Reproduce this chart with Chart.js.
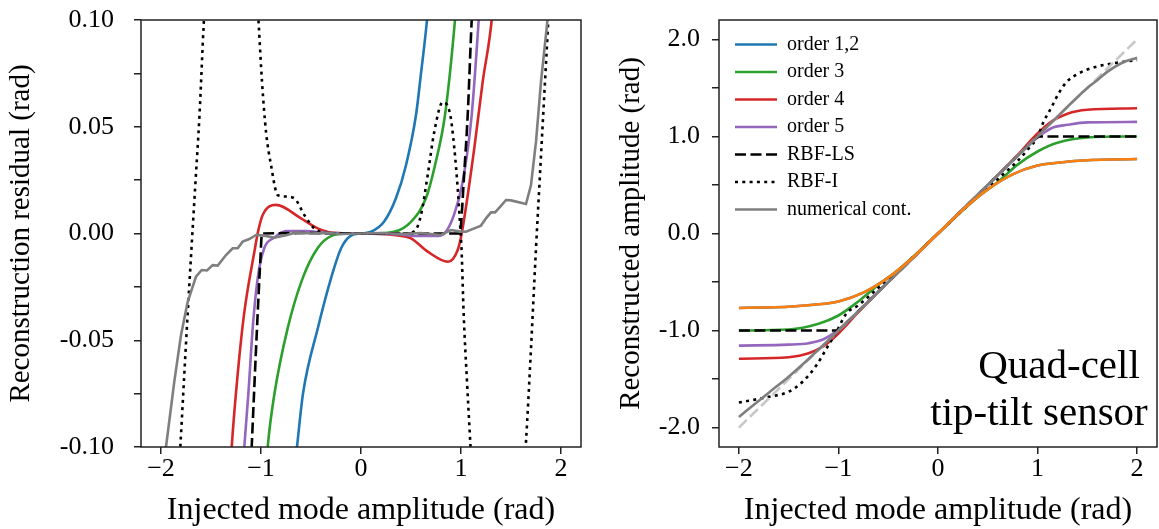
<!DOCTYPE html>
<html>
<head>
<meta charset="utf-8">
<script src="https://cdn.jsdelivr.net/npm/chart.js"></script>
<style>
  html, body { margin: 0; padding: 0; background: #fff; }
  #wrap { position: relative; width: 1159px; height: 529px; }
  #left { position: absolute; left: 0; top: 0; }
  #right { position: absolute; left: 600px; top: 0; }
</style>
</head>
<body>
<div id="wrap">
  <canvas id="left" width="600" height="529"></canvas>
  <canvas id="right" width="559" height="529"></canvas>
</div>
<script>
// ---- left panel: reconstruction residual ----
const o12ResX = [-0.72, -0.64, -0.58, -0.43, -0.3, -0.2, -0.1, 0, 0.1, 0.23, 0.35, 0.45, 0.55, 0.6, 0.66, 0.72];
const o12ResY = [-0.135, -0.1, -0.075, -0.044, -0.021, -0.007, -0.001, 0, 0.0008, 0.0055, 0.0166, 0.032, 0.0555, 0.075, 0.1, 0.135];

const o3ResX = [-0.97, -0.933, -0.867, -0.733, -0.583, -0.433, -0.3, -0.15, 0, 0.15, 0.33, 0.5, 0.65, 0.74, 0.84, 0.94, 0.98];
const o3ResY = [-0.125, -0.1, -0.0755, -0.0443, -0.0209, -0.0068, -0.0012, -0.0001, 0, 0.0001, 0.0008, 0.0055, 0.0166, 0.032, 0.0555, 0.1, 0.125];

const o4ResX = [-1.33, -1.293, -1.24, -1.17, -1.06, -1.03, -0.983, -0.85, -0.6, -0.433, -0.27, 0, 0.2, 0.35, 0.5, 0.667, 0.87, 0.967, 1.007, 1.133, 1.217, 1.307, 1.34];
const o4ResY = [-0.13, -0.1, -0.0694, -0.038, -0.0069, 0.0008, 0.0087, 0.0134, 0.0071, 0.0024, 0.0003, 0, -0.0002, -0.0008, -0.0023, -0.0085, -0.0132, -0.0077, 0, 0.04, 0.0711, 0.1, 0.12];

const o5ResX = [-1.2, -1.167, -1.127, -1.083, -1.033, -0.967, -0.87, -0.75, -0.55, -0.35, 0, 0.35, 0.55, 0.75, 0.833, 0.93, 1.017, 1.107, 1.177, 1.21];
const o5ResY = [-0.125, -0.1, -0.0755, -0.0443, -0.0209, -0.0068, -0.002, 0.0012, 0.0012, 0.0003, 0, -0.0003, -0.0012, -0.0012, 0, 0.0087, 0.0243, 0.0555, 0.1, 0.125];

const lsResX = [-1.12, -1.093, -1.04, -1.007, -0.99, -0.5, 0, 0.5, 0.99, 1.007, 1.027, 1.067, 1.107, 1.13];
const lsResY = [-0.13, -0.1, -0.0443, -0.0129, 0, 0.0002, 0, 0, 0, 0.0087, 0.0243, 0.0555, 0.1, 0.12];

const rbfiResX = [-2.0, -1.807, -1.771, -1.734, -1.695, -1.655, -1.615, -1.573, -1.45, -1.25, -1.1, -1.023, -0.99, -0.95, -0.9, -0.833, -0.75, -0.667, -0.567, -0.467, -0.333, 0, 0.4, 0.533, 0.6, 0.667, 0.733, 0.817, 0.893, 0.933, 0.967, 0.995, 1.005, 1.027, 1.06, 1.093, 1.25, 1.45, 1.65, 1.70, 1.75, 1.786, 1.831, 1.867, 2.0];
const rbfiResY = [-0.25, -0.1, -0.0694, -0.038, -0.0069, 0.0243, 0.0555, 0.098, 0.2, 0.25, 0.16, 0.098, 0.0711, 0.0477, 0.0321, 0.018, 0.0173, 0.0165, 0.0087, 0.0024, 0.0002, 0, 0, 0.001, 0.0087, 0.0274, 0.0477, 0.0615, 0.0555, 0.04, 0.0212, 0.0009, -0.0069, -0.038, -0.0694, -0.098, -0.23, -0.23, -0.0975, -0.0538, -0.0069, 0.0243, 0.0634, 0.0946, 0.22];

const numResX = [-2.0, -1.95, -1.867, -1.8, -1.733, -1.65, -1.593, -1.54, -1.483, -1.433, -1.35, -1.283, -1.233, -1.183, -1.117, -1.05, -0.967, -0.867, -0.75, -0.65, -0.5, -0.35, -0.2, 0, 0.2, 0.4, 0.6, 0.8, 0.9, 0.983, 1.05, 1.133, 1.2, 1.25, 1.3, 1.34, 1.393, 1.45, 1.5, 1.65, 1.7, 1.75, 1.8, 1.86, 1.9];
const numResY = [-0.135, -0.1, -0.0694, -0.0476, -0.032, -0.0202, -0.0171, -0.0173, -0.0148, -0.015, -0.0101, -0.0069, -0.0069, -0.0038, -0.0026, -0.0007, -0.001, -0.002, -0.0008, 0.0005, 0, 0.0003, -0.0002, 0, 0.0002, -0.0003, 0.0002, -0.0007, 0.0016, 0.001, 0.0008, 0.0024, 0.0037, 0.0071, 0.0099, 0.0099, 0.0126, 0.0157, 0.0155, 0.0138, 0.0227, 0.043, 0.0711, 0.0977, 0.12];

// ---- right panel: reconstructed amplitude ----
const ampX = [-2, -1.75, -1.5, -1.25, -1, -0.75, -0.5, -0.25, 0, 0.25, 0.5, 0.75, 1, 1.25, 1.5, 1.75, 2];
const o12AmpY = [-0.767, -0.763, -0.755, -0.735, -0.70, -0.61, -0.455, -0.245, 0, 0.245, 0.455, 0.61, 0.70, 0.735, 0.755, 0.763, 0.767];

const o3AmpX = [-2, -1.5, -1.2, -1, -0.8, -0.6, -0.4, 0, 0.4, 0.6, 0.8, 1, 1.2, 1.5, 2];
const o3AmpY = [-1.0, -0.99, -0.93, -0.845, -0.70, -0.53, -0.375, 0, 0.375, 0.53, 0.71, 0.845, 0.935, 0.99, 1.0];

const o45AmpX = [-2, -1.5, -1.3, -1.15, -1, -0.8, -0.5, 0, 0.5, 0.8, 1, 1.15, 1.3, 1.5, 2];
const o4AmpY = [-1.29, -1.275, -1.235, -1.16, -1.03, -0.81, -0.5, 0, 0.5, 0.81, 1.03, 1.16, 1.235, 1.275, 1.29];
const o5AmpY = [-1.155, -1.145, -1.13, -1.09, -0.99, -0.8, -0.5, 0, 0.5, 0.8, 0.99, 1.09, 1.12, 1.145, 1.15];

const lsAmpX = [-2, -1, 1, 2];
const lsAmpY = [-1, -1, 1, 1];

const rbfiAmpX = [-2, -1.7, -1.5, -1.36, -1.22, -1.12, -1.02, -0.92, -0.8, -0.6, -0.3, 0, 0.3, 0.6, 0.68, 0.79, 0.91, 1.0, 1.06, 1.14, 1.21, 1.29, 1.41, 1.58, 1.74, 2];
const rbfiAmpY = [-1.742, -1.683, -1.63, -1.528, -1.356, -1.185, -1.013, -0.824, -0.74, -0.56, -0.29, 0, 0.29, 0.56, 0.634, 0.737, 0.875, 0.995, 1.15, 1.30, 1.44, 1.56, 1.648, 1.716, 1.75, 1.787];

const numAmpX = [-2, -1.85, -1.7, -1.5, -1.35, -1, 0, 1, 1.5, 1.6, 1.7, 1.85, 2];
const numAmpY = [-1.89, -1.765, -1.64, -1.475, -1.34, -1, 0, 1, 1.5, 1.58, 1.665, 1.76, 1.81];

const diagX = [-2, 2];
const diagY = [-2, 2];

// ---- ticks / labels ----
const xTicks = [-2, -1, 0, 1, 2];
const xLabels = ['\u22122', '\u22121', '0', '1', '2'];
const resTicks = [-0.1, -0.075, -0.05, -0.025, 0, 0.025, 0.05, 0.075, 0.1];
const resLabels = ['-0.10', '', '-0.05', '', '0.00', '', '0.05', '', '0.10'];
const ampTicks = [-2, -1.5, -1, -0.5, 0, 0.5, 1, 1.5, 2];
const ampLabels = ['-2.0', '', '-1.0', '', '0.0', '', '1.0', '', '2.0'];
const legendNames = ['order 1,2', 'order 3', 'order 4', 'order 5', 'RBF-LS', 'RBF-I', 'numerical cont.'];
const noteLines = ['Quad-cell', 'tip-tilt sensor'];

const SERIF = "'Liberation Serif', 'DejaVu Serif', serif";
const AXIS = '#222222';
const C_BLUE = '#1f77b4', C_ORANGE = '#ff7f0e', C_GREEN = '#2ca02c', C_RED = '#d62728',
      C_PURPLE = '#9467bd', C_GRAY = '#7f7f7f', C_LIGHT = '#c8c8c8';
const DASH = [11, 4.5];
const DOT = [3, 4.3];

Chart.defaults.font.family = SERIF;
Chart.defaults.color = '#000';

function pts(xs, ys) {
	return xs.map((x, i) => ({x: x, y: ys[i]}));
}

function lineSet(label, xs, ys, color, order, extra) {
	return Object.assign({
		label: label,
		data: pts(xs, ys),
		borderColor: color,
		backgroundColor: color,
		borderWidth: 2.6,
		pointRadius: 0,
		pointHoverRadius: 0,
		fill: false,
		cubicInterpolationMode: 'monotone',
		order: order,
	}, extra || {});
}

const chartAreaBorder = {
	id: 'chartAreaBorder',
	afterDraw(chart, args, options) {
		const {ctx, chartArea: {left, top, width, height}} = chart;
		ctx.save();
		ctx.strokeStyle = options.borderColor;
		ctx.lineWidth = options.borderWidth;
		ctx.strokeRect(left, top, width, height);
		ctx.restore();
	}
};

// legend sits inside the plot, moved to the top-left corner
const legendInside = {
	id: 'legendInside',
	afterLayout(chart, args, options) {
		const lg = chart.legend;
		if (!lg || !options.enabled) return;
		lg.left = chart.chartArea.left + options.dx;
		lg.top = chart.chartArea.top + options.dy;
		lg.bottom = lg.top + lg.height;
	}
};

const cornerNote = {
	id: 'cornerNote',
	afterDatasetsDraw(chart, args, options) {
		if (!options.lines) return;
		const {ctx, chartArea} = chart;
		ctx.save();
		ctx.font = options.size + 'px ' + SERIF;
		ctx.fillStyle = '#000';
		ctx.textAlign = 'center';
		ctx.textBaseline = 'alphabetic';
		options.lines.forEach((t, i) => {
			ctx.fillText(t, chartArea.right - options.right[i], chartArea.bottom - options.bottom[i]);
		});
		ctx.restore();
	}
};

function xScale() {
	return {
		type: 'linear',
		position: 'bottom',
		min: -2.2,
		max: 2.2,
		afterBuildTicks: (s) => { s.ticks = xTicks.map(v => ({value: v})); },
		afterFit: (s) => { s.height = 82; s.paddingLeft = 0; s.paddingRight = 0; },
		ticks: {
			callback: (v, i) => xLabels[i],
			autoSkip: false,
			maxRotation: 0,
			padding: 2,
			font: {size: 26, lineHeight: 1},
			color: '#000',
		},
		grid: {drawOnChartArea: false, tickLength: 7, color: AXIS, lineWidth: 1.5},
		border: {display: false},
		title: {
			display: true,
			text: 'Injected mode amplitude (rad)',
			font: {size: 32, lineHeight: 1},
			padding: {top: 0, bottom: 2},
			color: '#000',
		},
	};
}

function yScale(min, max, tickVals, tickLabels, width, pad, titleText, titlePad) {
	return {
		type: 'linear',
		position: 'left',
		min: min,
		max: max,
		afterBuildTicks: (s) => { s.ticks = tickVals.map(v => ({value: v})); },
		afterFit: (s) => { s.width = width; s.paddingTop = 0; s.paddingBottom = 0; },
		ticks: {
			callback: (v, i) => tickLabels[i],
			autoSkip: false,
			padding: pad,
			font: {size: 26, lineHeight: 1},
			color: '#000',
		},
		grid: {drawOnChartArea: false, tickLength: 7, color: AXIS, lineWidth: 1.5},
		border: {display: false},
		title: {
			display: true,
			text: titleText,
			font: {size: 29, lineHeight: 1},
			padding: {top: titlePad, bottom: 0},
			color: '#000',
		},
	};
}

function createResidualChart(ctx) {
	return new Chart(ctx, {
		type: 'line',
		data: {
			datasets: [
				lineSet('order 1,2', o12ResX, o12ResY, C_BLUE, 7),
				lineSet('order 3', o3ResX, o3ResY, C_GREEN, 6),
				lineSet('order 4', o4ResX, o4ResY, C_RED, 5),
				lineSet('order 5', o5ResX, o5ResY, C_PURPLE, 4),
				lineSet('RBF-LS', lsResX, lsResY, '#000', 3, {borderDash: DASH}),
				lineSet('RBF-I', rbfiResX, rbfiResY, '#000', 2, {borderDash: DOT}),
				lineSet('numerical cont.', numResX, numResY, C_GRAY, 1, {cubicInterpolationMode: 'default', tension: 0}),
			],
		},
		options: {
			responsive: false,
			animation: false,
			devicePixelRatio: 1,
			layout: {padding: {top: 20, right: 19, bottom: 0, left: 0}},
			scales: {
				x: xScale(),
				y: yScale(-0.1, 0.1, resTicks, resLabels, 141, 20, 'Reconstruction residual (rad)', 7),
			},
			plugins: {
				legend: {display: false},
				tooltip: {enabled: false},
				chartAreaBorder: {borderColor: AXIS, borderWidth: 1.5},
			},
		},
		plugins: [chartAreaBorder],
	});
}

function createAmplitudeChart(ctx) {
	return new Chart(ctx, {
		type: 'line',
		data: {
			datasets: [
				lineSet('order 1,2', ampX, o12AmpY, C_BLUE, 9),
				lineSet('order 3', o3AmpX, o3AmpY, C_GREEN, 8),
				lineSet('order 4', o45AmpX, o4AmpY, C_RED, 7),
				lineSet('order 5', o45AmpX, o5AmpY, C_PURPLE, 6),
				lineSet('RBF-LS', lsAmpX, lsAmpY, '#000', 5, {borderDash: DASH, cubicInterpolationMode: 'default', tension: 0}),
				lineSet('RBF-I', rbfiAmpX, rbfiAmpY, '#000', 4, {borderDash: DOT}),
				lineSet('numerical cont.', numAmpX, numAmpY, C_GRAY, 2),
				lineSet('', ampX, o12AmpY, C_ORANGE, 1),
				lineSet('', diagX, diagY, C_LIGHT, 3, {borderDash: DASH, cubicInterpolationMode: 'default', tension: 0}),
			],
		},
		options: {
			responsive: false,
			animation: false,
			devicePixelRatio: 1,
			layout: {padding: {top: 20, right: 2, bottom: 0, left: 0}},
			scales: {
				x: xScale(),
				y: yScale(-2.2, 2.2, ampTicks, ampLabels, 119, 12, 'Reconstructed amplitude (rad)', 17),
			},
			plugins: {
				legend: {
					display: true,
					position: 'chartArea',
					align: 'start',
					labels: {
						usePointStyle: true,
						pointStyle: 'line',
						pointStyleWidth: 42,
						boxHeight: 20,
						padding: 7.5,
						font: {size: 20},
						color: '#000',
						generateLabels: (chart) => chart.data.datasets
							.map((ds, i) => ({
								text: ds.label,
								fillStyle: ds.borderColor,
								strokeStyle: ds.borderColor,
								lineWidth: ds.borderWidth,
								lineDash: ds.borderDash || [],
								pointStyle: 'line',
								hidden: false,
								fontColor: '#000',
								datasetIndex: i,
							}))
							.filter(item => legendNames.includes(item.text)),
					},
				},
				tooltip: {enabled: false},
				chartAreaBorder: {borderColor: AXIS, borderWidth: 1.5},
				legendInside: {enabled: true, dx: 8.5, dy: 7},
				cornerNote: {lines: noteLines, size: 41, right: [98, 118], bottom: [69, 22]},
			},
		},
		plugins: [chartAreaBorder, legendInside, cornerNote],
	});
}

createResidualChart(document.getElementById('left').getContext('2d'));
createAmplitudeChart(document.getElementById('right').getContext('2d'));
</script>
</body>
</html>
